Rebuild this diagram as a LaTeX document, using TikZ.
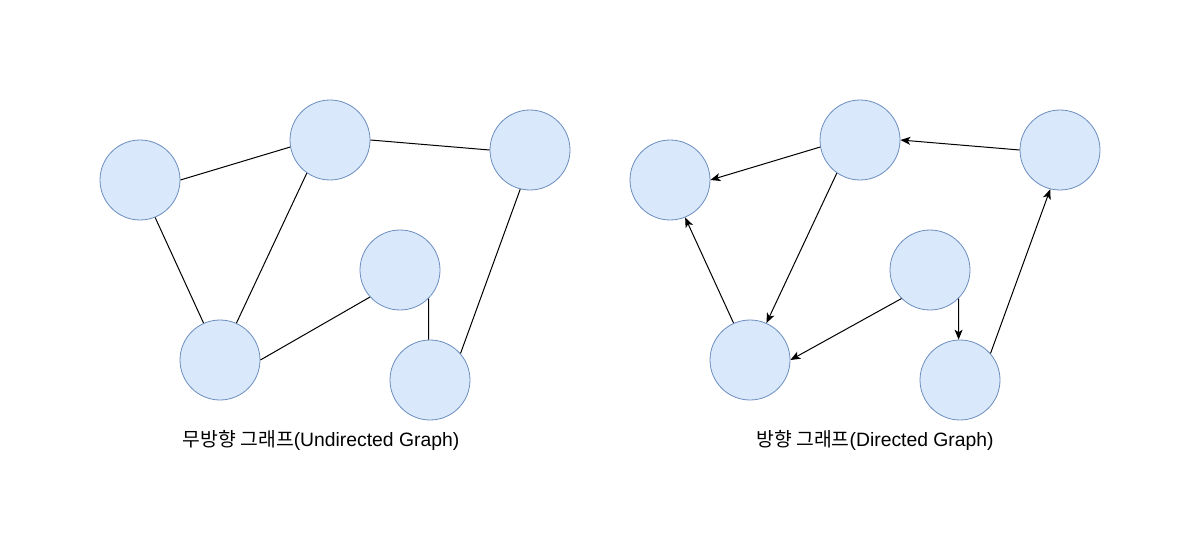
\documentclass[tikz,border=0pt]{standalone}
\usepackage{fontspec}
\setmainfont{Liberation Sans}
\newfontfamily\krfont{Noto Sans CJK KR}
\usetikzlibrary{arrows.meta}

\definecolor{vfill}{HTML}{DAE8FC}
\definecolor{vline}{HTML}{6C8EBF}

\begin{document}
\begin{tikzpicture}[x=0.75pt,y=-0.75pt,>={Stealth[length=7.5pt,width=6pt,inset=2pt]},
  vertex/.style={circle,draw=vline,fill=vfill,line width=0.6pt,minimum size=60pt,inner sep=0pt},
  edge/.style={line width=0.75pt},
  caption/.style={font=\fontsize{14.5pt}{17pt}\selectfont}]

\useasboundingbox (0,0) rectangle (1201,552);

% undirected graph
\node[vertex] (u1) at (140,180) {};
\node[vertex] (u2) at (330,140) {};
\node[vertex] (u3) at (530,150) {};
\node[vertex] (u4) at (400,270) {};
\node[vertex] (u5) at (220,360) {};
\node[vertex] (u6) at (430,380) {};

\draw[edge] (u1.0) -- (u2.190);
\draw[edge] (u2.0) -- (u3.180);
\draw[edge] (u1.292) -- (u5.114);
\draw[edge] (u2.235) -- (u5.66);
\draw[edge] (u5.0) -- (u4.222);
\draw[edge] (u4.315) -- (u6.92);
\draw[edge] (u3.256) -- (u6.41);

\node[caption] (ulabel) at (321,440) {{\krfont 무방향 그래프}(Undirected Graph)};

% directed graph
\node[vertex] (d1) at (670,180) {};
\node[vertex] (d2) at (860,140) {};
\node[vertex] (d3) at (1060,150) {};
\node[vertex] (d4) at (930,270) {};
\node[vertex] (d5) at (750,360) {};
\node[vertex] (d6) at (960,380) {};

\draw[edge,->] (d2.190) -- (d1.0);
\draw[edge,->] (d3.180) -- (d2.0);
\draw[edge,->] (d5.114) -- (d1.292);
\draw[edge,->] (d2.235) -- (d5.66);
\draw[edge,->] (d4.225) -- (d5.0);
\draw[edge,->] (d4.315) -- (d6.92);
\draw[edge,->] (d6.41) -- (d3.256);

\node[caption] (dlabel) at (875,440) {{\krfont 방향 그래프}(Directed Graph)};

\end{tikzpicture}
\end{document}
